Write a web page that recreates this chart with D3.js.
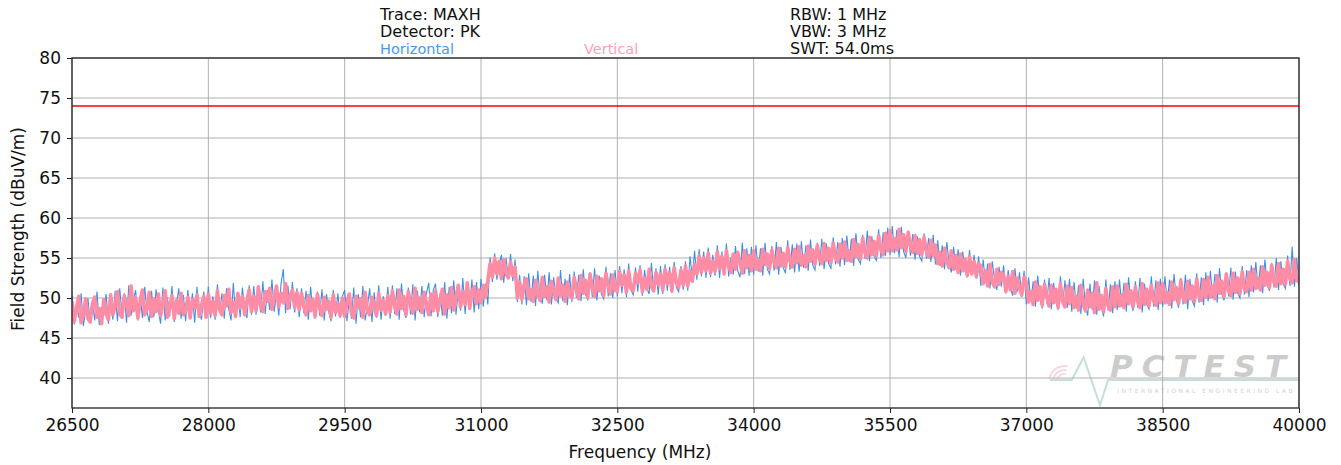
<!DOCTYPE html>
<html>
<head>
<meta charset="utf-8">
<script src="https://cdn.jsdelivr.net/npm/d3@7"></script>
<style>
  body { margin: 0; background: #fff; }
  text { font-family: "DejaVu Sans", sans-serif; }
</style>
</head>
<body>
<div id="chart"></div>
<script>
// sweep start / step (MHz), one value every 25 MHz
var freqStart = 26500, freqStep = 25;

var horizontal = [
  50.3, 46.7, 49.2, 47.5, 50.6, 46.5, 48.4, 50.0, 46.9, 49.5, 47.2, 50.8, 46.6, 48.9, 47.8, 50.5, 46.8, 49.6, 47.3, 50.9,
  47.1, 51.2, 48.0, 50.6, 46.9, 51.6, 47.8, 49.7, 51.0, 47.2, 50.3, 47.5, 51.4, 48.3, 47.0, 50.9, 47.6, 51.1, 48.4, 46.8,
  51.3, 47.2, 50.1, 47.7, 51.5, 47.0, 49.2, 51.2, 47.4, 50.4, 47.1, 51.0, 48.0, 50.6, 46.9, 51.4, 48.2, 47.3, 50.8, 47.5,
  51.4, 47.5, 50.2, 47.3, 51.7, 48.1, 50.6, 47.4, 51.2, 48.6, 47.2, 51.9, 47.8, 50.5, 47.6, 51.3, 48.4, 47.5, 51.6, 47.9,
  51.5, 47.9, 50.8, 48.2, 52.1, 48.0, 51.0, 48.5, 52.3, 48.3, 50.7, 47.8, 51.8, 53.6, 48.1, 51.6, 48.6, 52.0, 48.2, 51.2,
  47.6, 51.2, 48.1, 50.9, 47.3, 51.4, 48.6, 47.4, 50.8, 47.8, 51.1, 47.2, 50.5, 48.3, 47.1, 51.0, 47.7, 50.6, 47.5, 50.2,
  51.0, 47.1, 49.8, 47.4, 51.3, 46.8, 50.5, 47.6, 51.5, 47.2, 48.9, 51.2, 47.0, 50.7, 47.5, 51.6, 47.3, 50.2, 47.8, 51.4,
  47.4, 51.6, 48.0, 51.2, 47.3, 51.8, 48.5, 47.5, 51.3, 47.9, 51.7, 47.2, 50.9, 48.2, 51.5, 47.6, 50.6, 51.9, 47.7, 51.0,
  51.8, 47.6, 50.6, 47.8, 52.0, 47.4, 51.4, 48.1, 52.2, 47.9, 51.0, 48.4, 52.5, 48.0, 51.6, 48.7, 52.3, 48.2, 52.0, 48.6,
  52.4, 48.9, 51.8, 49.2, 55.1, 52.0, 55.6, 52.3, 54.2, 55.4, 51.9, 55.0, 52.6, 55.5, 52.1, 54.8, 49.5, 52.9, 49.2, 52.7,
  49.1, 53.1, 49.5, 52.8, 49.0, 53.4, 50.1, 49.3, 52.9, 49.7, 53.2, 49.2, 52.6, 50.0, 49.4, 53.5, 49.6, 52.4, 49.1, 53.0,
  49.5, 53.3, 50.0, 52.9, 49.6, 53.6, 50.4, 49.8, 53.2, 50.1, 53.7, 49.7, 52.8, 50.5, 49.9, 53.9, 50.2, 53.1, 50.0, 53.5,
  50.2, 54.0, 50.6, 53.6, 50.1, 54.3, 51.0, 50.4, 53.8, 50.8, 54.1, 50.3, 53.5, 51.2, 50.5, 54.4, 50.7, 53.7, 50.4, 54.0,
  50.5, 54.2, 50.9, 53.9, 50.6, 54.5, 51.3, 50.8, 54.0, 51.0, 54.6, 50.9, 55.2, 52.6, 55.9, 52.3, 56.1, 52.7, 55.8, 52.5,
  56.3, 52.6, 55.4, 52.8, 56.6, 52.5, 55.8, 53.2, 56.8, 52.7, 55.1, 52.9, 56.5, 53.4, 52.6, 56.9, 53.0, 56.2, 52.8, 56.4,
  52.9, 56.6, 53.3, 56.2, 52.8, 56.9, 53.6, 53.0, 56.5, 53.4, 57.0, 52.9, 56.4, 53.8, 53.1, 57.2, 53.5, 56.7, 53.2, 56.8,
  53.3, 57.1, 53.8, 56.6, 53.4, 57.3, 54.1, 53.5, 56.9, 54.0, 57.4, 53.6, 56.8, 54.3, 53.7, 57.6, 54.2, 57.0, 53.9, 57.5,
  54.1, 57.8, 54.5, 57.4, 54.0, 58.1, 54.8, 54.3, 57.9, 54.9, 58.4, 54.6, 57.7, 55.2, 54.7, 58.6, 55.0, 58.2, 55.3, 58.8,
  55.4, 59.0, 55.6, 58.5, 55.1, 58.9, 55.8, 55.0, 58.4, 55.3, 58.0, 54.8, 57.7, 55.2, 54.6, 58.1, 54.9, 57.5, 54.5, 57.9,
  54.2, 57.2, 54.0, 56.6, 53.6, 57.0, 54.3, 53.2, 56.4, 53.5, 56.1, 52.8, 55.8, 53.4, 52.6, 56.0, 52.9, 55.4, 52.4, 55.2,
  51.5, 54.8, 51.9, 54.3, 51.2, 54.6, 52.3, 51.0, 53.9, 51.4, 54.1, 50.6, 53.5, 51.3, 50.3, 53.7, 50.8, 53.2, 50.1, 53.4,
  49.2, 52.6, 49.6, 52.1, 48.9, 52.8, 49.9, 48.7, 52.3, 49.3, 52.5, 48.6, 51.9, 49.5, 48.5, 52.7, 49.1, 52.2, 48.8, 52.4,
  48.3, 52.0, 48.7, 51.6, 48.0, 52.4, 49.1, 47.8, 51.8, 48.5, 52.2, 47.9, 51.5, 48.9, 47.7, 52.3, 48.4, 51.7, 48.1, 52.1,
  48.5, 52.3, 48.9, 51.9, 48.3, 52.6, 49.4, 48.4, 52.1, 48.8, 52.5, 48.2, 51.8, 49.2, 48.6, 52.7, 48.9, 52.2, 48.5, 52.4,
  48.9, 52.7, 49.3, 52.3, 48.7, 53.0, 49.8, 48.8, 52.5, 49.2, 52.9, 48.6, 52.4, 49.6, 49.0, 53.1, 49.4, 52.6, 49.1, 53.2,
  49.6, 53.4, 50.0, 53.0, 49.4, 53.7, 50.5, 49.7, 53.2, 50.2, 53.8, 49.8, 53.3, 50.6, 50.0, 54.0, 50.4, 53.5, 50.1, 54.1,
  50.7, 54.5, 51.1, 54.1, 50.6, 54.8, 51.6, 50.9, 54.4, 51.3, 55.0, 51.0, 54.6, 51.8, 51.2, 55.3, 51.5, 56.4, 51.4, 55.0,
  51.6
];

var vertical = [
  49.6, 47.1, 48.8, 50.2, 46.9, 48.0, 49.9, 47.4, 47.0, 49.3, 50.1, 47.6, 48.7, 46.8, 49.8, 48.2, 47.3, 50.4, 47.9, 49.0,
  50.8, 48.0, 47.6, 50.3, 49.2, 47.8, 51.5, 48.4, 50.0, 47.5, 49.6, 51.0, 47.9, 48.6, 50.7, 47.7, 49.9, 48.3, 50.5, 47.8,
  49.4, 50.9, 47.6, 48.9, 50.3, 47.4, 49.7, 48.1, 50.6, 47.9, 48.4, 50.1, 47.5, 49.8, 48.8, 50.4, 47.7, 49.1, 50.2, 47.6,
  50.5, 48.1, 49.6, 47.8, 50.9, 48.5, 47.9, 50.3, 49.0, 51.1, 48.2, 49.5, 47.7, 50.6, 48.8, 50.2, 47.9, 49.7, 51.0, 48.3,
  50.2, 48.4, 51.4, 49.1, 48.3, 50.8, 49.6, 51.2, 48.6, 50.0, 51.5, 48.9, 50.6, 49.4, 51.8, 48.7, 50.3, 51.0, 48.8, 50.7,
  48.5, 50.6, 49.0, 47.9, 50.3, 48.4, 49.8, 47.7, 50.5, 48.9, 47.8, 50.1, 48.6, 49.6, 47.6, 50.4, 48.2, 49.3, 47.8, 50.0,
  47.7, 49.4, 50.5, 48.1, 47.5, 50.2, 48.8, 49.9, 47.6, 50.7, 48.4, 47.9, 50.1, 49.0, 47.8, 50.6, 48.5, 49.7, 48.0, 50.3,
  48.2, 50.9, 49.1, 48.0, 51.0, 48.7, 50.2, 47.9, 50.8, 49.4, 48.1, 51.2, 48.6, 50.0, 48.2, 50.7, 49.3, 47.9, 50.5, 48.4,
  50.9, 48.3, 49.7, 51.1, 48.0, 50.4, 48.8, 51.3, 48.5, 50.1, 51.6, 48.9, 50.8, 49.2, 51.9, 48.7, 50.6, 51.4, 49.3, 51.0,
  49.4, 51.6, 50.1, 52.2, 54.3, 52.6, 55.0, 53.0, 54.6, 52.4, 54.8, 53.1, 52.5, 54.5, 52.8, 53.9, 50.0, 52.0, 49.8, 51.7,
  52.4, 49.9, 51.0, 49.6, 52.2, 50.5, 49.7, 52.6, 50.2, 51.4, 49.5, 52.1, 50.8, 49.8, 52.5, 50.3, 51.6, 49.6, 52.0, 50.4,
  50.0, 52.6, 51.1, 49.9, 52.8, 50.6, 52.2, 50.1, 53.0, 51.3, 50.2, 52.7, 50.9, 52.4, 50.3, 53.1, 51.5, 50.5, 52.9, 51.0,
  50.8, 53.3, 51.6, 52.9, 50.7, 53.4, 51.2, 50.9, 53.1, 51.9, 53.5, 50.8, 52.5, 51.1, 53.6, 51.4, 50.9, 53.2, 51.7, 53.0,
  51.0, 53.6, 51.8, 53.2, 50.9, 53.8, 52.0, 51.3, 53.5, 51.6, 54.0, 51.5, 53.4, 52.1, 54.2, 53.0, 55.3, 53.2, 55.0, 53.4,
  55.6, 53.1, 54.6, 53.3, 55.8, 53.7, 55.2, 53.0, 55.9, 54.0, 53.2, 55.5, 53.6, 55.7, 54.3, 53.1, 55.9, 53.8, 55.3, 53.4,
  55.9, 53.6, 54.8, 53.4, 56.1, 54.2, 55.5, 53.7, 56.0, 54.5, 53.8, 56.2, 54.0, 55.6, 53.9, 56.3, 54.6, 53.9, 56.1, 54.4,
  56.4, 54.1, 55.3, 53.9, 56.5, 54.6, 56.0, 54.2, 56.6, 55.0, 54.3, 56.8, 54.7, 56.2, 54.4, 56.9, 55.1, 54.5, 56.7, 55.0,
  57.0, 54.7, 55.9, 54.6, 57.3, 55.2, 56.7, 54.9, 57.5, 55.6, 55.0, 57.6, 55.4, 57.1, 55.3, 57.8, 56.0, 55.4, 58.1, 55.9,
  58.4, 55.9, 57.4, 56.0, 58.6, 56.3, 57.9, 55.8, 58.2, 56.5, 55.7, 57.8, 55.6, 57.3, 55.4, 57.6, 55.9, 55.1, 57.2, 55.3,
  56.6, 54.3, 55.7, 54.0, 56.2, 54.6, 53.8, 55.9, 53.6, 55.3, 53.2, 55.5, 53.4, 54.9, 52.8, 55.2, 53.0, 54.6, 52.7, 54.3,
  54.0, 51.8, 53.4, 51.5, 54.2, 52.0, 51.4, 53.6, 51.7, 53.2, 52.9, 50.8, 52.7, 51.0, 53.3, 50.6, 52.5, 51.2, 50.4, 52.6,
  51.9, 49.5, 50.8, 49.2, 52.0, 49.7, 51.4, 49.1, 51.7, 50.2, 49.0, 51.6, 49.4, 51.1, 48.8, 51.8, 49.6, 48.9, 51.5, 49.3,
  51.3, 48.8, 50.2, 48.5, 51.6, 49.2, 48.4, 51.0, 48.9, 50.6, 48.2, 51.9, 48.6, 50.3, 48.3, 51.2, 49.0, 48.5, 51.4, 48.9,
  51.5, 49.0, 50.4, 48.8, 51.7, 49.3, 50.9, 48.9, 51.4, 49.6, 48.8, 51.8, 49.2, 51.1, 49.0, 51.6, 49.7, 49.1, 51.9, 49.4,
  51.8, 49.4, 50.7, 49.2, 52.0, 49.8, 51.3, 49.3, 52.2, 50.0, 49.5, 52.1, 49.9, 51.5, 49.6, 52.4, 50.2, 49.7, 52.3, 50.1,
  52.6, 50.1, 51.5, 49.9, 52.8, 50.6, 52.1, 50.2, 53.0, 50.9, 50.3, 53.1, 50.7, 52.5, 50.5, 53.3, 51.2, 50.8, 53.2, 51.0,
  53.6, 51.2, 52.5, 51.0, 53.9, 51.6, 53.2, 51.3, 54.1, 51.9, 51.5, 54.3, 51.8, 53.6, 51.7, 54.6, 52.4, 51.9, 54.8, 52.2,
  52.0
];

var limitLine = 74;
var xTicks = [26500, 28000, 29500, 31000, 32500, 34000, 35500, 37000, 38500, 40000];
var yTicks = [40, 45, 50, 55, 60, 65, 70, 75, 80];
var headerLeft = ["Trace: MAXH", "Detector: PK"];
var headerRight = ["RBW: 1 MHz", "VBW: 3 MHz", "SWT: 54.0ms"];

var W = 1341, H = 465;
var margin = { top: 58, right: 42, bottom: 57, left: 72 },
    width = W - margin.left - margin.right,
    height = H - margin.top - margin.bottom;

var svg = d3.select("#chart").append("svg")
    .attr("width", W).attr("height", H);

var g = svg.append("g")
    .attr("transform", "translate(" + margin.left + "," + margin.top + ")");

var x = d3.scaleLinear().domain([26500, 40000]).range([0, width]);
var y = d3.scaleLinear().domain([36.25, 80]).range([height, 0]);

// grid
g.append("g").selectAll("line").data(xTicks).enter().append("line")
    .attr("x1", d => x(d)).attr("x2", d => x(d))
    .attr("y1", 0).attr("y2", height)
    .attr("stroke", "#b0b0b0").attr("stroke-width", 1);
g.append("g").selectAll("line").data(yTicks).enter().append("line")
    .attr("x1", 0).attr("x2", width)
    .attr("y1", d => y(d)).attr("y2", d => y(d))
    .attr("stroke", "#b0b0b0").attr("stroke-width", 1);

var clip = svg.append("clipPath").attr("id", "plotclip")
    .append("rect").attr("width", width).attr("height", height);

// watermark (logo in the lower right)
var wm = g.append("g").attr("opacity", 0.5).attr("clip-path", "url(#plotclip)");
wm.append("path")
    .attr("d", d3.line()([[x(37260), y(39.75)], [x(37500), y(39.75)], [x(37630), y(42.6)],
                         [x(37810), y(36.6)], [x(37900), y(39.75)], [x(40000), y(39.75)]]))
    .attr("fill", "none").attr("stroke", "#8fbcb6").attr("stroke-width", 2);
wm.append("text")
    .attr("x", x(37920)).attr("y", y(40.1))
    .attr("font-size", 31).attr("font-weight", "bold").attr("font-style", "italic")
    .attr("letter-spacing", 9)
    .attr("fill", "#9a9a9a")
    .text("PCTEST");
wm.append("text")
    .attr("x", x(38000)).attr("y", y(38.1))
    .attr("font-size", 6).attr("letter-spacing", 2.5).attr("fill", "#9aa8a8")
    .text("INTERNATIONAL ENGINEERING LAB");
[8, 12, 16].forEach(function (r) {
    wm.append("path")
        .attr("transform", "translate(" + x(37420) + "," + y(39.6) + ")")
        .attr("d", d3.arc()({ innerRadius: r - 1.5, outerRadius: r, startAngle: -1.4, endAngle: 0.2 }))
        .attr("fill", "#f4a0a8");
});

var line = d3.line()
    .x((d, i) => x(freqStart + i * freqStep))
    .y(d => y(d));

var traces = g.append("g").attr("clip-path", "url(#plotclip)");
traces.append("path").datum(horizontal)
    .attr("fill", "none").attr("stroke", "#3f8fe8").attr("stroke-width", 1.1)
    .attr("d", line);
traces.append("path").datum(vertical)
    .attr("fill", "none").attr("stroke", "#ff8ca5").attr("stroke-width", 3.6)
    .attr("stroke-linejoin", "round")
    .attr("d", line);

// limit
g.append("line")
    .attr("x1", 0).attr("x2", width)
    .attr("y1", y(limitLine)).attr("y2", y(limitLine))
    .attr("stroke", "#ff0000").attr("stroke-width", 1.6);

// axes
var xAxis = g.append("g").attr("transform", "translate(0," + height + ")")
    .call(d3.axisBottom(x).tickValues(xTicks).tickFormat(d3.format("d")).tickSize(5).tickPadding(6));
var yAxis = g.append("g")
    .call(d3.axisLeft(y).tickValues(yTicks).tickSize(5).tickPadding(6));
[xAxis, yAxis].forEach(function (a) {
    a.selectAll("text").attr("font-size", 17).attr("fill", "#111")
        .style("font-family", "DejaVu Sans, sans-serif");
    a.selectAll("line").attr("stroke", "#222");
    a.select(".domain").remove();
});

g.append("rect").attr("width", width).attr("height", height)
    .attr("fill", "none").attr("stroke", "#222").attr("stroke-width", 1.3);

// labels
svg.append("text")
    .attr("x", 640).attr("y", 458).attr("text-anchor", "middle")
    .attr("font-size", 17).attr("fill", "#111")
    .text("Frequency (MHz)");
svg.append("text")
    .attr("transform", "translate(24," + (margin.top + height / 2 - 4) + ") rotate(-90)")
    .attr("text-anchor", "middle")
    .attr("font-size", 17).attr("fill", "#111")
    .text("Field Strength (dBuV/m)");

svg.selectAll(".hl").data(headerLeft).enter().append("text")
    .attr("x", 380).attr("y", (d, i) => 20 + i * 17)
    .attr("font-size", 16).attr("fill", "#111").text(d => d);
svg.selectAll(".hr").data(headerRight).enter().append("text")
    .attr("x", 790).attr("y", (d, i) => 20 + i * 17)
    .attr("font-size", 16).attr("fill", "#111").text(d => d);

svg.append("text").attr("x", 380).attr("y", 54)
    .attr("font-size", 14.5).attr("fill", "#4a98ec").text("Horizontal");
svg.append("text").attr("x", 584).attr("y", 54)
    .attr("font-size", 14.5).attr("fill", "#ffa0b8").text("Vertical");
</script>
</body>
</html>
